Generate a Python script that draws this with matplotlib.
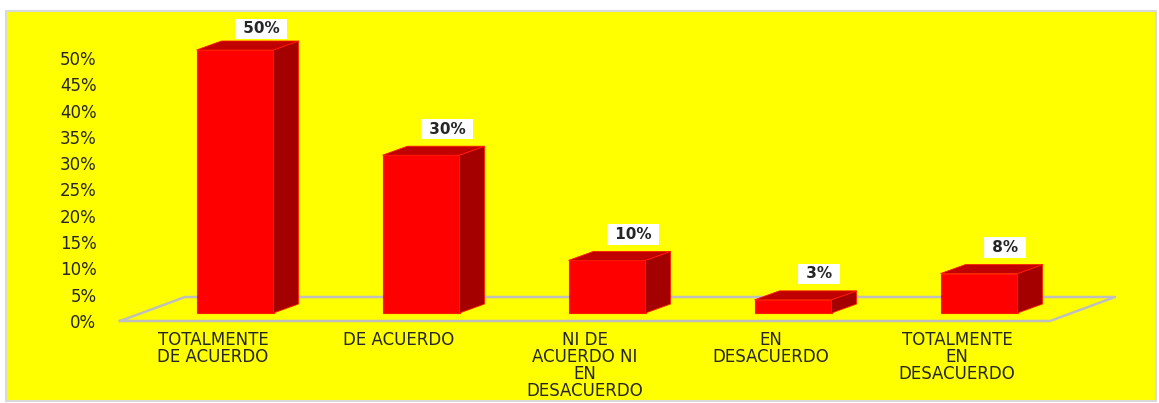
import matplotlib
matplotlib.use("Agg")
import matplotlib.pyplot as plt
from matplotlib.patches import Polygon, Rectangle
import numpy as np

# Data
categories = ["TOTALMENTE\nDE ACUERDO", "DE ACUERDO", "NI DE\nACUERDO NI\nEN\nDESACUERDO",
              "EN\nDESACUERDO", "TOTALMENTE\nEN\nDESACUERDO"]
values = [0.50, 0.30, 0.10, 0.025, 0.075]
value_labels = ["50%", "30%", "10%", "3%", "8%"]
y_ticks = [0.0, 0.05, 0.10, 0.15, 0.20, 0.25, 0.30, 0.35, 0.40, 0.45, 0.50]
y_tick_labels = ["0%", "5%", "10%", "15%", "20%", "25%", "30%", "35%", "40%", "45%", "50%"]

W, H = 1159, 403
fig = plt.figure(figsize=(W / 100, H / 100), dpi=100)
fig.patch.set_facecolor("white")

# yellow chart area with light gray frame
fig.patches.append(Rectangle((6 / W, (H - 401) / H), 1150 / W, 390 / H, transform=fig.transFigure,
                             facecolor="#FFFF00", edgecolor="#D9D9D9", linewidth=1.5, zorder=-5))

ax_l, ax_r, ax_t, ax_b = 120, 1050, 58, 321
ax = fig.add_axes([ax_l / W, (H - ax_b) / H, (ax_r - ax_l) / W, (ax_b - ax_t) / H])
ax.set_facecolor("none")
ax.set_xlim(-0.5, 4.5)
ax.set_ylim(0, 0.5)
for s in ax.spines.values():
    s.set_visible(False)

# pixel -> data conversion
sx = 5.0 / (ax_r - ax_l)
sy = 0.5 / (ax_b - ax_t)

x = np.arange(len(values))
bar_w = 77 * sx
fx, fy = 22 * sx, 8 * sy      # front face offset from the floor front edge
dx, dy = 25 * sx, 9 * sy      # bar depth
flx, fly = 65 * sx, 24 * sy   # floor depth

# floor outline
floor = [(-0.5, 0), (4.5, 0), (4.5 + flx, fly), (-0.5 + flx, fly), (-0.5, 0)]
ax.plot([p[0] for p in floor], [p[1] for p in floor], color="#BFBFBF", lw=1.8, clip_on=False, zorder=1)

# front faces
ax.bar(x + fx, values, width=bar_w, bottom=fy, color="#FF0000", edgecolor="#FF1a00",
       linewidth=0.8, zorder=3, clip_on=False)

for xi, v in zip(x, values):
    l = xi + fx - bar_w / 2
    r = xi + fx + bar_w / 2
    b = fy
    t = fy + v
    side = Polygon([(r, b), (r, t), (r + dx, t + dy), (r + dx, b + dy)], closed=True,
                   facecolor="#A50000", edgecolor="#FF1a00", lw=0.6, zorder=3, clip_on=False)
    top = Polygon([(l, t), (r, t), (r + dx, t + dy), (l + dx, t + dy)], closed=True,
                  facecolor="#C00000", edgecolor="#FF1a00", lw=0.6, zorder=3, clip_on=False)
    ax.add_patch(side)
    ax.add_patch(top)

# value labels (kept inside the chart area at the top)
for xi, v, lab in zip(x, values, value_labels):
    top_px = ax_b - v / sy
    yoff = min(34, top_px - 29)
    ax.annotate(" " + lab + " ", xy=(xi, v), xytext=(48 * 0.72, yoff * 0.72), textcoords="offset points",
                ha="center", va="center", fontsize=11, fontweight="bold", color="#262626",
                bbox=dict(boxstyle="square,pad=0.18", facecolor="white", edgecolor="none"),
                annotation_clip=False, zorder=5)

ax.set_yticks(y_ticks)
ax.set_yticklabels(y_tick_labels)
ax.set_xticks(x)
ax.set_xticklabels(categories, linespacing=0.93, multialignment="center")
ax.tick_params(axis="y", length=0, pad=17, labelsize=12, labelcolor="#262626")
ax.tick_params(axis="x", length=0, pad=7, labelsize=12, labelcolor="#262626")

fig.savefig("out.png", dpi=100, facecolor=fig.get_facecolor())
